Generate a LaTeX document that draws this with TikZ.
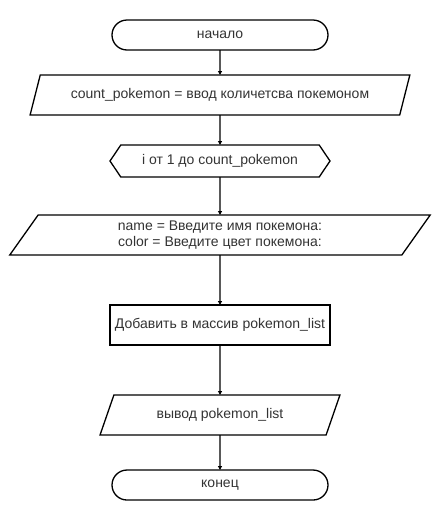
\documentclass[tikz,border=0pt]{standalone}
\usepackage{fontspec}
\setmainfont{Liberation Sans}
\usetikzlibrary{shapes.geometric, shapes.misc, shapes.symbols, arrows.meta, positioning}

\begin{document}
\begin{tikzpicture}[
    x=1pt, y=1pt,
    line width=1.3pt,
    font=\fontsize{14}{16}\selectfont,
    box/.style={draw, align=center, text=black!80, inner sep=2pt, outer sep=0pt},
    term/.style={box, rounded rectangle, minimum width=220pt, minimum height=30pt},
    io/.style={box, trapezium, trapezium stretches=true,
        trapezium left angle=63.4, trapezium right angle=116.6, minimum height=40pt},
    loopbox/.style={box, signal, signal to=east and west, signal pointer angle=112,
        minimum width=220pt, minimum height=32pt},
    proc/.style={box, rectangle, minimum width=220pt, minimum height=40pt},
    >={Triangle[length=4pt, width=4pt]}
]
\useasboundingbox (0,0) rectangle (440,-520);

\node[term] (start) at (220,-35) {начало};
\node[io, minimum width=380pt] (count) [below=25pt of start] {count\_pokemon = ввод количетсва покемоном};
\node[loopbox] (loop) [below=30pt of count] {i от 1 до count\_pokemon};
\node[io, minimum width=421pt] (input) [below=38pt of loop] {name = Введите имя покемона:\\color = Введите цвет покемона:};
\node[proc] (add) [below=50pt of input] {Добавить в массив pokemon\_list};
\node[io, minimum width=240pt] (output) [below=50pt of add] {вывод pokemon\_list};
\node[term] (stop) [below=35pt of output] {конец};

\path[->]
    (start) edge (count)
    (count) edge (loop)
    (loop) edge (input)
    (input) edge (add)
    (add) edge (output)
    (output) edge (stop)
    ;

\end{tikzpicture}
\end{document}
